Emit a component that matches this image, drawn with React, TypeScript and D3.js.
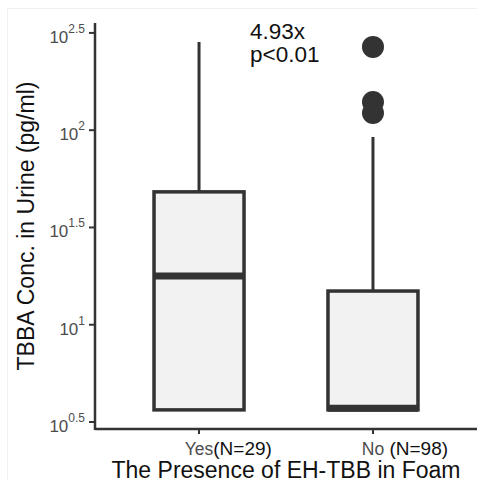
import React, { useEffect, useRef } from "react";
import * as d3 from "d3";

// groups and their box stats (pg/ml)
const groups = ["Yes", "No"];
const groupN = ["(N=29)", " (N=98)"];
const lowerWhisker = [3.65, 3.65];
const q1 = [3.65, 3.65];
const median = [17.8, 3.72];
const q3 = [48.2, 14.9];
const upperWhisker = [284, 92.3];
const outliers = [[], [268, 139.6, 122.7]];
const tickExps = ["0.5", "1", "1.5", "2", "2.5"];

const App = () => {
  const ref = useRef<SVGSVGElement>(null);

  useEffect(() => {
    document.body.style.margin = "0";
    const svg = d3.select(ref.current);
    svg.selectAll("*").remove();

    const left = 95;
    const right = 477;
    const top = 23;
    const bottom = 429;
    const font = "Arial, 'Liberation Sans', sans-serif";

    const y = d3
      .scaleLog()
      .domain([Math.pow(10, 0.464), Math.pow(10, 2.551)])
      .range([bottom, top]);

    const x = d3.scalePoint().domain(groups).range([left, right]).padding(0.598);
    const boxW = 90;

    svg.append("rect").attr("width", 477).attr("height", 480).attr("fill", "white");
    // faint frame of the original figure
    svg
      .append("rect")
      .attr("x", 7.5)
      .attr("y", 8.5)
      .attr("width", 470)
      .attr("height", 472)
      .attr("fill", "none")
      .attr("stroke", "#f0f0f0");

    // Boxes
    groups.forEach((g, i) => {
      const cx = x(g)!;
      const grp = svg.append("g");
      grp
        .append("line")
        .attr("x1", cx)
        .attr("x2", cx)
        .attr("y1", y(upperWhisker[i]))
        .attr("y2", y(q3[i]))
        .attr("stroke", "#333")
        .attr("stroke-width", 3);
      grp
        .append("line")
        .attr("x1", cx)
        .attr("x2", cx)
        .attr("y1", y(q1[i]))
        .attr("y2", y(lowerWhisker[i]))
        .attr("stroke", "#333")
        .attr("stroke-width", 3);
      grp
        .append("rect")
        .attr("x", cx - boxW / 2)
        .attr("width", boxW)
        .attr("y", y(q3[i]))
        .attr("height", y(q1[i]) - y(q3[i]))
        .attr("fill", "#f2f2f2")
        .attr("stroke", "#333")
        .attr("stroke-width", 3.5);
      grp
        .append("line")
        .attr("x1", cx - boxW / 2)
        .attr("x2", cx + boxW / 2)
        .attr("y1", y(median[i]))
        .attr("y2", y(median[i]))
        .attr("stroke", "#333")
        .attr("stroke-width", 7);
      grp
        .selectAll("circle")
        .data(outliers[i])
        .enter()
        .append("circle")
        .attr("cx", cx)
        .attr("cy", (d) => y(d))
        .attr("r", 11)
        .attr("fill", "#333");
    });

    // Axes
    svg
      .append("line")
      .attr("x1", left)
      .attr("x2", left)
      .attr("y1", top)
      .attr("y2", bottom + 1)
      .attr("stroke", "#333")
      .attr("stroke-width", 2.5);
    svg
      .append("line")
      .attr("x1", left)
      .attr("x2", right)
      .attr("y1", bottom)
      .attr("y2", bottom)
      .attr("stroke", "#333")
      .attr("stroke-width", 2.5);

    // Y ticks
    tickExps.forEach((e) => {
      const ty = y(Math.pow(10, +e));
      svg
        .append("line")
        .attr("x1", left - 6)
        .attr("x2", left)
        .attr("y1", ty)
        .attr("y2", ty)
        .attr("stroke", "#333")
        .attr("stroke-width", 2);
      const t = svg
        .append("text")
        .attr("x", 85)
        .attr("y", ty + 10)
        .attr("text-anchor", "end")
        .attr("font-family", font)
        .attr("fill", "#4d4d4d");
      t.append("tspan").attr("font-size", 17).text("10");
      t.append("tspan").attr("font-size", 12).attr("dy", -10).text(e);
    });

    // X ticks
    groups.forEach((g, i) => {
      const cx = x(g)!;
      svg
        .append("line")
        .attr("x1", cx)
        .attr("x2", cx)
        .attr("y1", bottom)
        .attr("y2", bottom + 5)
        .attr("stroke", "#333")
        .attr("stroke-width", 2);
      const t = svg
        .append("text")
        .attr("x", cx)
        .attr("y", 455)
        .attr("font-family", font);
      const lbl = t.append("tspan").attr("font-size", 17.5).attr("fill", "#4d4d4d").text(g);
      t.append("tspan").attr("font-size", 19).attr("fill", "#111").text(groupN[i]);
      const w = (lbl.node() as SVGTextContentElement).getComputedTextLength();
      t.attr("x", cx - w / 2);
    });

    // Titles
    svg
      .append("text")
      .attr("x", 286)
      .attr("y", 478)
      .attr("text-anchor", "middle")
      .attr("font-family", font)
      .attr("font-size", 23)
      .attr("fill", "#111")
      .text("The Presence of EH-TBB in Foam");

    svg
      .append("text")
      .attr("transform", `translate(34,226) rotate(-90)`)
      .attr("text-anchor", "middle")
      .attr("font-family", font)
      .attr("font-size", 23)
      .attr("fill", "#111")
      .text("TBBA Conc. in Urine (pg/ml)");

    svg
      .append("text")
      .attr("x", 250)
      .attr("y", 39)
      .attr("font-family", font)
      .attr("font-size", 22.5)
      .attr("fill", "#111")
      .text("4.93x");
    svg
      .append("text")
      .attr("x", 250)
      .attr("y", 62)
      .attr("font-family", font)
      .attr("font-size", 22.5)
      .attr("fill", "#111")
      .text("p<0.01");
  }, []);

  return (
    <div>
      <svg ref={ref} width={477} height={480} style={{ display: "block" }}></svg>
    </div>
  );
};

export default App;
